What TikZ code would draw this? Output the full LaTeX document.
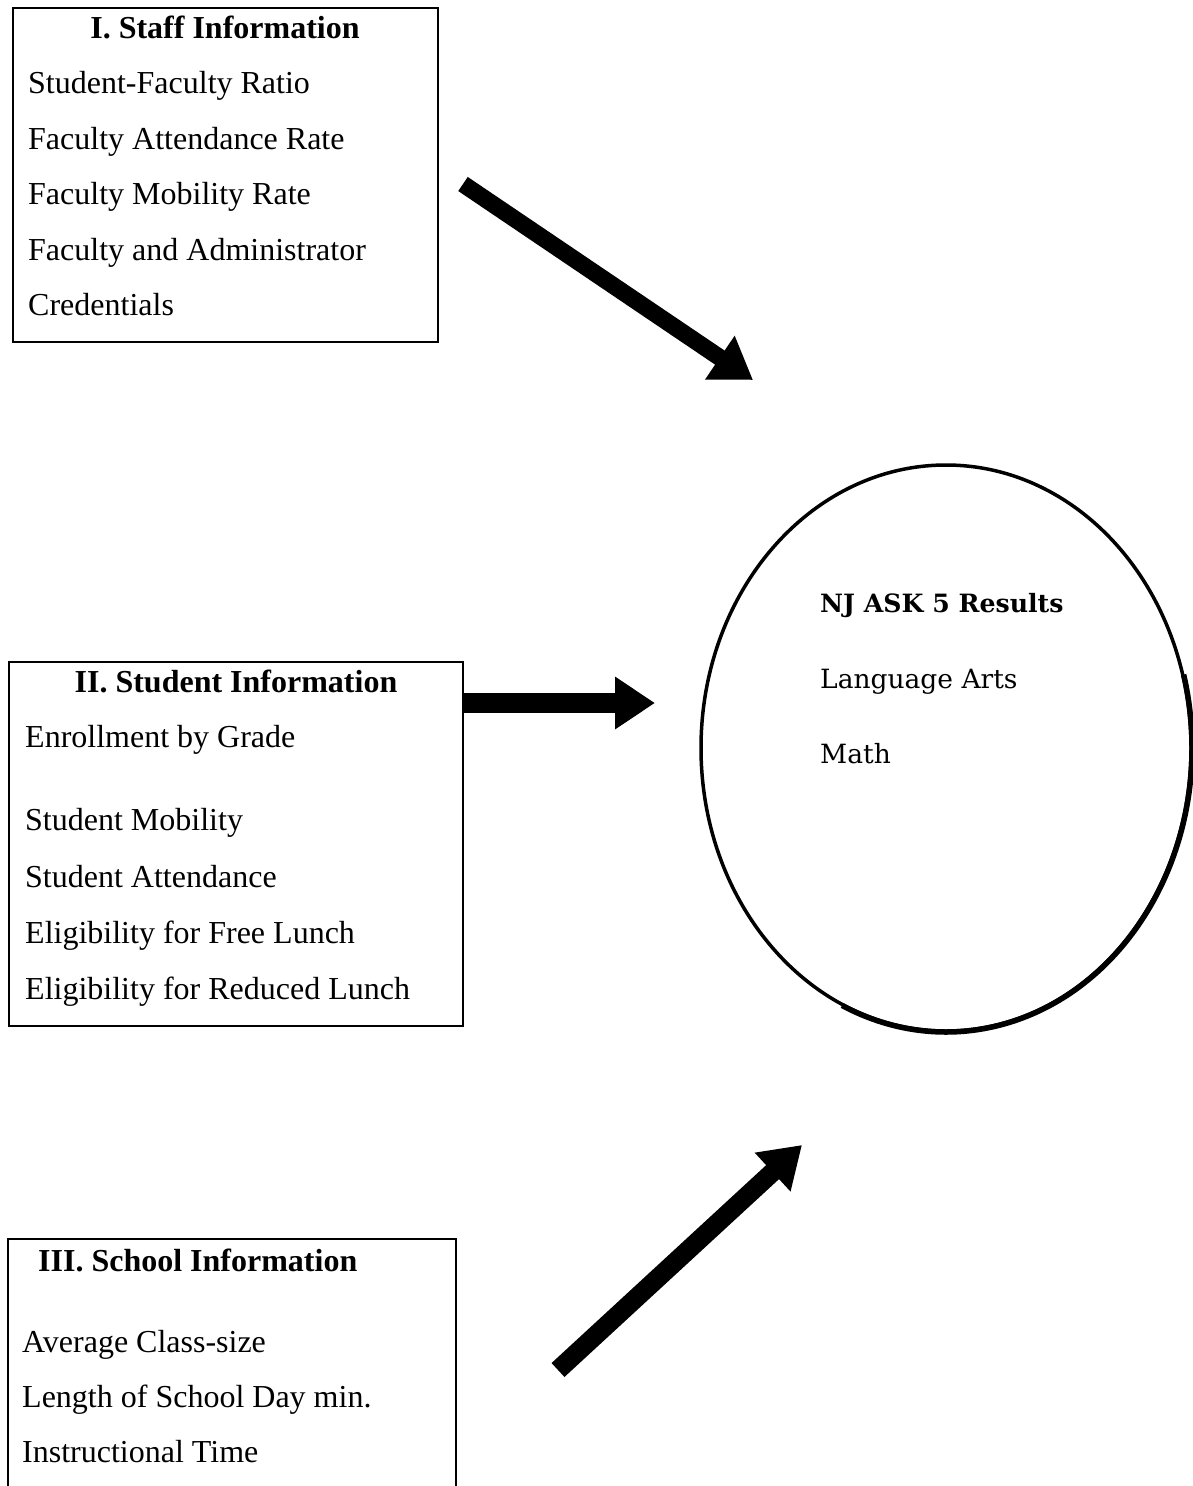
\documentclass[tikz,border=0pt]{standalone}
\usepackage{fontspec}
\setmainfont{Liberation Serif}
\newfontfamily\ellfont{DejaVu Serif}
\usetikzlibrary{arrows.meta,shapes.geometric,calc}
\tikzset{
  box/.style={draw, line width=1.5pt, inner sep=0pt, anchor=north west},
  txt/.style={inner sep=0pt, anchor=base west, font=\fontsize{32}{38}\selectfont},
  ttl/.style={inner sep=0pt, anchor=base, font=\fontsize{32}{38}\selectfont\bfseries},
  etxt/.style={inner sep=0pt, anchor=base west, font=\ellfont\fontsize{26.5}{32}\selectfont},
  bigarrow/.style={line width=17pt, -{Triangle[length=40pt,width=50pt]}},
}
\begin{document}
\begin{tikzpicture}[x=1pt,y=-1pt]
\useasboundingbox[fill=white] (0,0) rectangle (1193,1486);

% Box I
\node[box, minimum width=425pt, minimum height=334pt] (staff) at (12,7) {};
\node[ttl] (st) at (225,38) {I. Staff Information};
\node[txt] (s1) at (28,93) {Student-Faculty Ratio};
\node[txt] (s2) at (28,149) {Faculty Attendance Rate};
\node[txt] (s3) at (28,204) {Faculty Mobility Rate};
\node[txt] (s4) at (28,260) {Faculty and Administrator};
\node[txt] (s5) at (28,315) {Credentials};

% Box II
\node[box, minimum width=454pt, minimum height=364pt] (student) at (8,661) {};
\node[ttl] (stt) at (236,692) {II. Student Information};
\node[txt] (t1) at (25,747) {Enrollment by Grade};
\node[txt] (t2) at (25,830) {Student Mobility};
\node[txt] (t3) at (25,887) {Student Attendance};
\node[txt] (t4) at (25,943) {Eligibility for Free Lunch};
\node[txt] (t5) at (25,999) {Eligibility for Reduced Lunch};

% Box III (open at the bottom)
\coordinate (sbl) at (8,1486);
\coordinate (stl) at (8,1239);
\coordinate (str) at (456,1239);
\coordinate (sbr) at (456,1486);
\draw[line width=1.5pt] (sbl) -- (stl) -- (str) -- (sbr);
\node[txt, anchor=base west] (sct) at (38,1271) {\bfseries III. School Information};
\node[txt] (c1) at (22,1352) {Average Class-size};
\node[txt] (c2) at (22,1407) {Length of School Day min.};
\node[txt] (c3) at (22,1462) {Instructional Time};

% Ellipse
\node[ellipse, draw, line width=3.5pt, minimum width=490pt, minimum height=566pt, inner sep=0pt] (res) at (946,748) {};
\draw[line width=5.5pt] ($(res.center)+(237.6,-73.5)$) arc[start angle=15, end angle=-115, x radius=246pt, y radius=284pt];
\node[etxt, font=\ellfont\fontsize{25.2}{30}\selectfont\bfseries] (r1) at (820,612) {NJ ASK 5 Results};
\node[etxt] (r2) at (820,688) {Language Arts};
\node[etxt] (r3) at (820,763) {Math};

% Arrows
\coordinate (a1s) at (463,184);
\coordinate (a1e) at (753,380);
\coordinate (a2s) at (463,703);
\coordinate (a2e) at (655,703);
\coordinate (a3s) at (558,1370);
\coordinate (a3e) at (802,1145);
\draw[bigarrow] (a1s) -- (a1e);
\draw[bigarrow, line width=20pt] (a2s) -- (a2e);
\draw[bigarrow, line width=19pt] (a3s) -- (a3e);
\end{tikzpicture}
\end{document}
